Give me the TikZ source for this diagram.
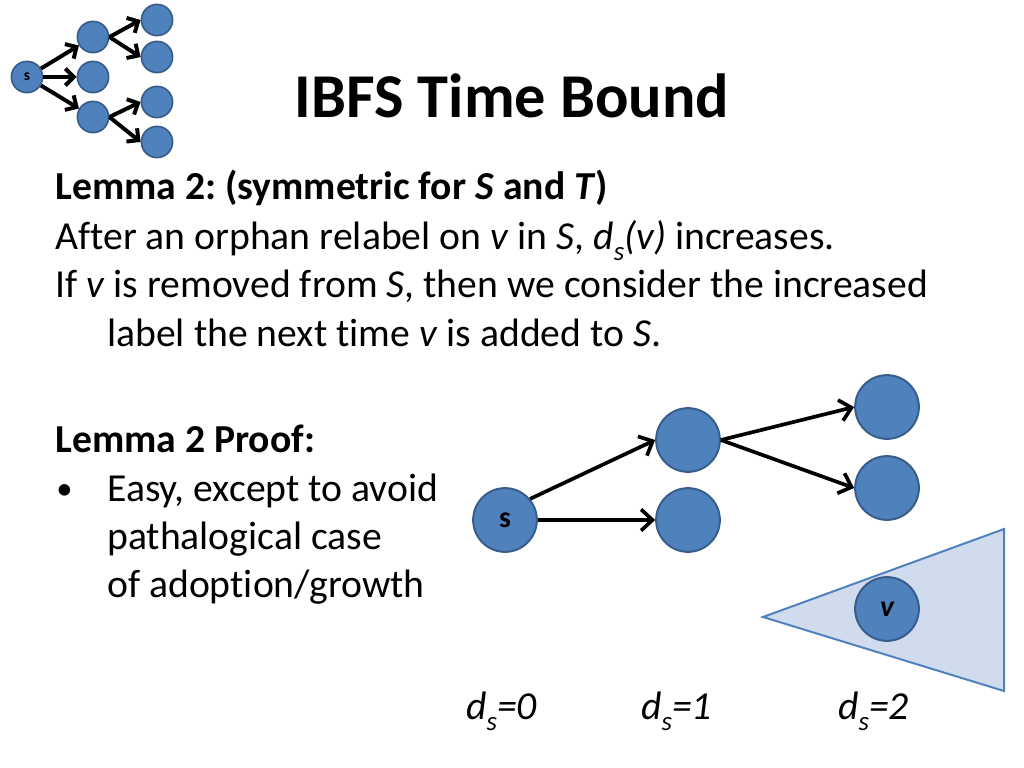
\documentclass[tikz,border=0pt]{standalone}
\usepackage{fontspec}
\setmainfont[Ligatures=NoCommon]{Carlito}
\usetikzlibrary{arrows.meta}

\definecolor{nodeblue}{HTML}{4F81BD}
\definecolor{nodeedge}{HTML}{385D8A}
\definecolor{treefill}{HTML}{D0DCEE}

\newcommand{\subs}[1]{\raisebox{-0.28em}{\fontsize{19}{19}\selectfont #1}}

\tikzset{
  vert/.style={circle, fill=nodeblue, draw=nodeedge, line width=1.4pt,
    minimum size=45pt, inner sep=0pt, font=\fontsize{21}{21}\selectfont\bfseries},
  smallvert/.style={vert, minimum size=22pt, line width=1.2pt,
    font=\fontsize{11}{11}\selectfont\bfseries},
  edge/.style={-{Straight Barb[length=8pt,width=15pt]}, line width=2.6pt},
  smalledge/.style={-{Straight Barb[length=6pt,width=12pt]}, line width=2.8pt},
  body/.style={anchor=base west, inner sep=0pt, font=\fontsize{28}{34}\selectfont\frenchspacing},
}

\begin{document}
\begin{tikzpicture}[x=0.24805mm, y=-0.24805mm]

    \useasboundingbox (0,0) rectangle (1024,768);

    % Icon
    \node[smallvert] (is) at (27, 77) {s};
    \node[smallvert] (ia) at (93, 37) {};
    \node[smallvert] (ib) at (93, 77) {};
    \node[smallvert] (ic) at (93, 117) {};
    \node[smallvert] (ia1) at (157, 20) {};
    \node[smallvert] (ia2) at (157, 57) {};
    \node[smallvert] (ic1) at (157, 102) {};
    \node[smallvert] (ic2) at (157, 142) {};
    \draw[smalledge] (is) -- (ia);
    \draw[smalledge] (is) -- (ib);
    \draw[smalledge] (is) -- (ic);
    \draw[smalledge] (ia.east) -- (ia1.west);
    \draw[smalledge] (ia.east) -- (ia2.west);
    \draw[smalledge] (ic.east) -- (ic1.west);
    \draw[smalledge] (ic.east) -- (ic2.west);

    % Title
    \node[anchor=base, inner sep=0pt, font=\fontsize{44}{53}\selectfont\bfseries]
        (title) at (512, 118) {IBFS Time Bound};

    % Lemma
    \node[body] (lem) at (55, 200) {\bfseries Lemma 2: (symmetric for \textit{S} and \textit{T})};
    \node[body] (lemb) at (55, 249)
        {After an orphan relabel on \textit{v} in \textit{S}, \textit{d\subs{s}(v)} increases.};
    \node[body] (lemc) at (55, 297)
        {If \textit{v} is removed from \textit{S}, then we consider the increased};
    \node[body] (lemd) at (107, 346) {label the next time \textit{v} is added to \textit{S}.};

    % Proof
    \node[body] (prf) at (55, 452) {\bfseries Lemma 2 Proof:};
    \node[body, font=\fontsize{23}{28}\selectfont] (bul) at (56, 499) {\textbullet};
    \node[body] (prfa) at (107, 501) {Easy, except to avoid};
    \node[body] (prfb) at (107, 549) {pathalogical case};
    \node[body] (prfc) at (107, 597) {of adoption/growth};

    % Tree below v
    \draw[fill=treefill, draw=nodeblue, line width=1.4pt]
        (763, 617) -- (1004, 529) -- (1004, 691) -- cycle;

    % Search tree
    \node[vert] (s) at (505, 520) {s};
    \node[vert] (a) at (688, 440) {};
    \node[vert] (b) at (688, 520) {};
    \node[vert] (a1) at (887, 407) {};
    \node[vert] (a2) at (887, 488) {};
    \node[vert] (v) at (887, 609) {\itshape v};
    \draw[edge] (s.40) -- (a.west);
    \draw[edge] (s) -- (b);
    \draw[edge] (a.east) -- (a1.west);
    \draw[edge] (a.east) -- (a2.west);

    % Labels
    \node[body] (d0) at (466, 719) {\itshape d\subs{s}=0};
    \node[body] (d1) at (641, 719) {\itshape d\subs{s}=1};
    \node[body] (d2) at (838, 719) {\itshape d\subs{s}=2};

\end{tikzpicture}
\end{document}
